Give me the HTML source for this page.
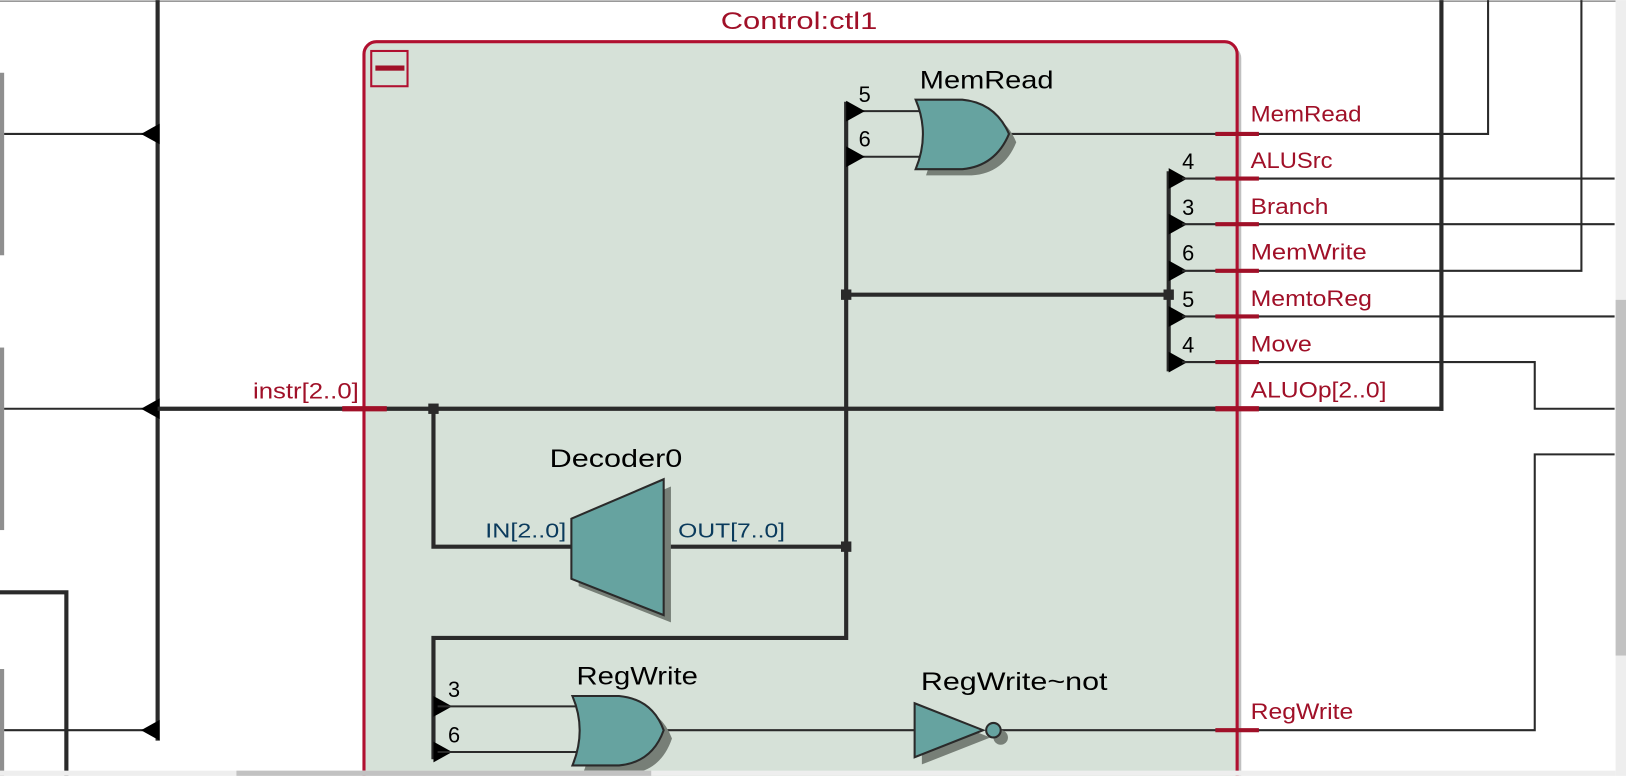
<!DOCTYPE html>
<html><head><style>
html,body{margin:0;padding:0;background:#fff;overflow:hidden}
svg{display:block}
text{font-family:"Liberation Sans","DejaVu Sans",sans-serif}
</style></head><body>
<svg width="1626" height="776" viewBox="0 0 1568 748" xmlns="http://www.w3.org/2000/svg">
<rect width="1568" height="748" fill="#fff"/>
<line x1="0" y1="1" x2="1558" y2="1" stroke="#999" stroke-width="1.5"/>
<rect x="0" y="70" width="4" height="176" fill="#8f8f8f"/>
<rect x="0" y="335" width="4" height="176" fill="#8f8f8f"/>
<rect x="0" y="645" width="4" height="103" fill="#8f8f8f"/>
<line x1="152" y1="0" x2="152" y2="714" stroke="#2a2a2a" stroke-width="4"/>
<g stroke="#2a2a2a" stroke-width="2" fill="none">
<line x1="4" y1="129" x2="140" y2="129"/>
<line x1="4" y1="704" x2="140" y2="704"/>
<polyline points="0,571 64,571 64,748" stroke-width="4"/>
</g>
<line x1="4" y1="394" x2="140" y2="394" stroke="#2a2a2a" stroke-width="2"/>
<g fill="#000">
<polygon points="136,129 154,119 154,139"/>
<polygon points="136,394 154,384 154,404"/>
<polygon points="136,704 154,694 154,714"/>
</g>
<rect x="355" y="44" width="842" height="720" rx="12" fill="#c0c0c0"/>
<rect x="351" y="40" width="842" height="720" rx="12" fill="#d6e1d8" stroke="#b01030" stroke-width="3"/>
<text x="695" y="28" font-size="23" fill="#a01028" textLength="151" lengthAdjust="spacingAndGlyphs">Control:ctl1</text>
<rect x="358" y="49" width="35" height="34" fill="none" stroke="#b01030" stroke-width="2"/>
<rect x="362" y="63" width="28" height="5" fill="#a01028"/>
<g stroke="#2a2a2a" stroke-width="4" fill="none">
<line x1="152" y1="394" x2="1392" y2="394"/>
<line x1="1390" y1="0" x2="1390" y2="396"/>
<polyline points="418,394 418,527 552,527"/>
<line x1="640" y1="527" x2="816" y2="527"/>
<line x1="816" y1="98" x2="816" y2="617"/>
<polyline points="816,615 418,615 418,732"/>
<line x1="816" y1="284" x2="1127" y2="284"/>
<line x1="1127" y1="165" x2="1127" y2="358"/>
</g>
<g fill="#2a2a2a">
<rect x="413" y="389" width="10" height="10"/>
<rect x="811" y="522" width="10" height="10"/>
<rect x="811" y="279" width="10" height="10"/>
<rect x="1122" y="279" width="10" height="10"/>
</g>
<text x="244" y="384" font-size="21" fill="#a01028" textLength="102" lengthAdjust="spacingAndGlyphs">instr[2..0]</text>
<line x1="330" y1="394" x2="373" y2="394" stroke="#a01028" stroke-width="5"/>
<polygon points="558,507 647,469 647,600 558,565" fill="#777f77"/>
<polygon points="551,500 640,462 640,593 551,558" fill="#66a3a0" stroke="#2a2a2a" stroke-width="2"/>
<text x="530" y="450" font-size="24" fill="#000" textLength="128" lengthAdjust="spacingAndGlyphs">Decoder0</text>
<text x="468" y="518" font-size="20" fill="#0a3a5c" textLength="78" lengthAdjust="spacingAndGlyphs">IN[2..0]</text>
<text x="654" y="518" font-size="20" fill="#0a3a5c" textLength="103" lengthAdjust="spacingAndGlyphs">OUT[7..0]</text>
<g stroke="#2a2a2a" stroke-width="2" fill="none">
<line x1="820" y1="107" x2="895" y2="107"/>
<line x1="820" y1="151" x2="895" y2="151"/>
<line x1="973" y1="129" x2="1193" y2="129"/>
</g>
<path d="M893,105 Q905,137 893,169 L937,169 Q968,167 980,137 Q968,108 937,105 Z" fill="#777f77"/>
<path d="M883,96 Q897,129 883,163 L928,163 Q960,160 973,129 Q960,99 928,96 Z" fill="#66a3a0" stroke="#2a2a2a" stroke-width="2"/>
<text x="887" y="85" font-size="24" fill="#000" textLength="129" lengthAdjust="spacingAndGlyphs">MemRead</text>
<g fill="#000">
<polygon points="816,97 834,107 816,117"/>
<polygon points="816,141 834,151 816,161"/>
<polygon points="1127,162 1145,172 1127,182"/>
<polygon points="1127,206 1145,216 1127,226"/>
<polygon points="1127,251 1145,261 1127,271"/>
<polygon points="1127,295 1145,305 1127,315"/>
<polygon points="1127,339 1145,349 1127,359"/>
<polygon points="418,671 436,681 418,691"/>
<polygon points="418,715 436,725 418,735"/>
</g>
<g font-size="21" fill="#000">
<text x="828" y="98">5</text><text x="828" y="141">6</text>
<text x="1140" y="163">4</text><text x="1140" y="207">3</text><text x="1140" y="251">6</text>
<text x="1140" y="296">5</text><text x="1140" y="340">4</text>
<text x="432" y="672">3</text><text x="432" y="716">6</text>
</g>
<g stroke="#2a2a2a" stroke-width="2" fill="none">
<line x1="1140" y1="172" x2="1557" y2="172"/>
<line x1="1140" y1="216" x2="1557" y2="216"/>
<polyline points="1140,261 1525,261 1525,0"/>
<line x1="1140" y1="305" x2="1557" y2="305"/>
<polyline points="1140,349 1480,349 1480,394 1557,394"/>
<polyline points="1193,129 1435,129 1435,0"/>
<polyline points="958,704 1480,704 1480,438 1557,438"/>
</g>
<g stroke="#a01028" stroke-width="4">
<line x1="1172" y1="129" x2="1214" y2="129"/><line x1="1172" y1="172" x2="1214" y2="172"/>
<line x1="1172" y1="216" x2="1214" y2="216"/><line x1="1172" y1="261" x2="1214" y2="261"/>
<line x1="1172" y1="305" x2="1214" y2="305"/><line x1="1172" y1="349" x2="1214" y2="349"/>
<line x1="1172" y1="394" x2="1214" y2="394" stroke-width="5"/><line x1="1172" y1="704" x2="1214" y2="704"/>
</g>
<g font-size="21" fill="#a01028" lengthAdjust="spacingAndGlyphs">
<text x="1206" y="117" textLength="107" lengthAdjust="spacingAndGlyphs">MemRead</text>
<text x="1206" y="162" textLength="79" lengthAdjust="spacingAndGlyphs">ALUSrc</text>
<text x="1206" y="206" textLength="75" lengthAdjust="spacingAndGlyphs">Branch</text>
<text x="1206" y="250" textLength="112" lengthAdjust="spacingAndGlyphs">MemWrite</text>
<text x="1206" y="295" textLength="117" lengthAdjust="spacingAndGlyphs">MemtoReg</text>
<text x="1206" y="339" textLength="59" lengthAdjust="spacingAndGlyphs">Move</text>
<text x="1206" y="383" textLength="131" lengthAdjust="spacingAndGlyphs">ALUOp[2..0]</text>
<text x="1206" y="693" textLength="99" lengthAdjust="spacingAndGlyphs">RegWrite</text>
</g>
<g stroke="#2a2a2a" stroke-width="2" fill="none">
<line x1="422" y1="681" x2="562" y2="681"/>
<line x1="422" y1="725" x2="562" y2="725"/>
<line x1="640" y1="704" x2="882" y2="704"/>
</g>
<path d="M562,680 Q576,712 562,746 L606,746 Q637,744 648,712 Q637,683 606,680 Z" fill="#777f77"/>
<path d="M552,671 Q566,704 552,738 L597,738 Q629,735 640,704 Q629,674 597,671 Z" fill="#66a3a0" stroke="#2a2a2a" stroke-width="2"/>
<text x="556" y="660" font-size="24" fill="#000" textLength="117" lengthAdjust="spacingAndGlyphs">RegWrite</text>
<polygon points="889,685 955,711 889,737" fill="#777f77"/>
<circle cx="965" cy="711" r="7" fill="#777f77"/>
<polygon points="882,678 948,704 882,730" fill="#66a3a0" stroke="#2a2a2a" stroke-width="2"/>
<circle cx="958" cy="704" r="7" fill="#66a3a0" stroke="#2a2a2a" stroke-width="2"/>
<text x="888" y="665" font-size="24" fill="#000" textLength="180" lengthAdjust="spacingAndGlyphs">RegWrite~not</text>
<rect x="1558" y="0" width="10" height="748" fill="#eeeeee"/>
<rect x="1558" y="289" width="10" height="343" fill="#c2c2c2"/>
<rect x="0" y="743" width="1558" height="5" fill="#eeeeee"/>
<rect x="228" y="743" width="400" height="5" fill="#c2c2c2"/>
</svg>
</body></html>
